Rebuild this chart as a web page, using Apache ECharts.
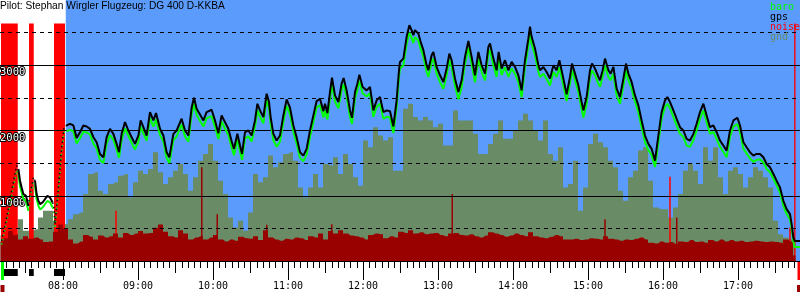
<!DOCTYPE html>
<html><head><meta charset="utf-8">
<script src="https://cdn.jsdelivr.net/npm/echarts@6/dist/echarts.min.js"></script>
<style>html,body{margin:0;padding:0;background:#fff}#c{width:800px;height:300px}</style>
</head><body><div id="c"></div>
<script>
// ---------- DATA ----------
const titleText = 'Pilot: Stephan Wirgler Flugzeug: DG 400 D-KKBA';
const legendNames = ['baro', 'gps', 'noise', 'gnd'];
const hourLabels = ['08:00','09:00','10:00','11:00','12:00','13:00','14:00','15:00','16:00','17:00'];

// axis extent in minutes of the day
const xMin = 429.6, xMax = 1069.6;
const flightStart = 482.2;           // coloured background from here
const takeoffMarker = 431.6, landingMarker = 1068.8;

// time (min of day) of each fix, gps altitude, baro altitude (m)
const flightT = [430.9,434.9,438.9,442.9,444.3,445.6,446.9,448.3,450.4,452.3,453.6,456.3,457.6,458.9,460.3,461.6,463.7,465.6,467.5,469.6,471.7,472.8,473.6,476.3,478.9,480.8,
481.6,482.9,485.6,488.3,490.9,493.6,496.3,498.9,501.6,504.3,506.9,509.6,512.3,514.9,517.6,520.3,522.9,524.8,526.9,529.6,532.3,534.9,537.6,540.3,542.1,544.3,546.9,549.6,552.3,554.4,557.6,560.3,562.9,565.1,568.3,570.9,574.9,577.6,580.3,582.9,584.8,586.9,589.6,
592.3,594.9,598.9,601.6,604.3,606.9,609.6,612.3,614.9,616.8,619.5,621.6,623.2,625.6,628.3,630.9,633.6,635.5,637.6,640.3,642.9,644.8,646.1,648.3,650.9,653.6,656.3,658.9,661.6,664.3,666.9,669.6,672.3,674.9,677.6,680.3,682.9,685.6,688.3,689.6,691.5,693.6,695.2,697.6,700.3,702.9,704.5,706.9,709.6,711.2,713.6,715.5,717.1,719.7,722.9,725.6,728.3,730.9,733.6,736.3,738.9,741.6,744.3,746.9,748.8,
749.6,752.3,754.9,757.1,758.9,760.3,761.6,764.3,766.1,768.3,770.9,772.3,774.9,776.3,778.9,781.6,784.3,786.9,789.1,790.9,793.6,796.3,798.9,801.6,804.3,806.9,809.6,812.3,814.9,817.6,820.3,821.6,824.3,826.9,828.5,830.9,833.6,836.3,838.9,841.6,844.3,846.9,849.6,852.3,853.6,854.9,857.6,860.3,861.6,864.3,866.9,869.6,872.3,874.9,877.1,880.3,882.9,885.6,887.2,889.6,892.3,894.9,896.3,898.9,901.6,903.2,905.6,908.3,
909.6,911.7,913.6,916.3,918.1,920.3,922.9,925.6,928.3,930.4,932.3,934.9,937.6,940.3,942.9,945.6,948.3,950.9,953.6,956.3,958.9,961.6,963.5,965.6,968.3,970.9,973.6,976.3,978.9,981.6,984.3,986.9,989.6,992.3,994.9,997.6,1000.3,1002.9,1005.6,1008.3,1010.9,1013.6,1016.3,1019.5,1021.6,1024.3,1026.9,1029.6,1032.3,1034.9,1037.6,1040.3,1042.9,1045.6,1048.3,1050.9,1053.6,1056.3,1058.9,1061.6,1062.9,1064.3,1065.3,1069.6];

const gpsAlt = [308,667,1077,1462,1410,1231,1128,1026,1000,846,1026,1282,1231,1026,923,872,897,949,1000,974,897,820,564,1128,1744,2051,
2051,2077,2103,2077,1887,1974,2077,2061,2026,1897,1820,1641,1590,1897,2026,1949,1795,1667,1949,2128,2000,1897,1795,1923,2154,2051,1923,2282,2154,2267,2026,1923,1667,1590,1949,2000,2180,2000,1923,2349,2503,2333,2246,
2154,2282,2318,2154,1959,2231,2128,2026,1836,1718,1949,1769,1641,1974,2000,1923,2154,2410,2308,2205,2564,2436,2205,1949,1846,1923,2231,2477,2349,2077,1897,1667,1615,1718,2000,2231,2451,2487,2297,2410,2267,2590,2810,2538,2436,2718,2805,2615,2308,2195,2590,2718,2856,2667,2615,2667,2308,2462,2513,2282,2308,2297,2062,2462,2923,
3051,3102,3436,3615,3538,3462,3538,3487,3359,3231,3000,2923,3154,3205,2974,2846,2744,2949,3179,3077,2795,2590,2769,3128,3374,3128,2846,3205,3000,2872,3282,3333,3102,2923,3205,2949,3077,2923,3051,2974,2846,2615,3077,3410,3590,3436,3256,3000,2923,2974,2897,2795,3000,2923,3077,2795,2554,2821,3026,2872,2692,2436,2308,2513,2923,3026,2949,2821,
2769,2923,3102,2923,2872,2974,2641,2513,2795,3026,2872,2744,2538,2385,2154,1923,1795,1718,1538,1923,2282,2462,2513,2436,2308,2180,2051,2000,1872,1846,1949,2103,2282,2410,2231,2051,2077,1974,1846,1769,1692,2000,2154,2195,2077,1821,1744,1667,1615,1641,1641,1590,1487,1436,1333,1231,1128,923,795,718,564,359,308,308];

const baroAlt = [250,600,1000,1390,1330,1150,1050,950,920,770,960,1210,1150,950,850,790,820,870,920,900,820,750,500,1060,1670,1970,
1950,1990,2010,1990,1800,1880,1980,1970,1940,1800,1730,1550,1500,1800,1930,1860,1710,1580,1850,2030,1920,1810,1710,1830,2060,1960,1840,2190,2060,2170,1930,1830,1580,1500,1850,1910,2090,1910,1830,2250,2410,2240,2150,
2060,2190,2220,2060,1870,2140,2030,1930,1740,1620,1860,1680,1550,1880,1910,1830,2060,2310,2210,2110,2470,2340,2110,1850,1750,1830,2130,2380,2250,1980,1800,1580,1530,1630,1900,2130,2350,2390,2200,2310,2170,2490,2710,2440,2340,2620,2710,2520,2210,2100,2490,2620,2760,2570,2520,2570,2210,2360,2410,2180,2210,2200,1960,2360,2820,
2950,3000,3330,3500,3420,3340,3430,3380,3250,3130,2900,2820,3050,3100,2870,2740,2640,2850,3080,2970,2690,2480,2660,3020,3270,3020,2740,3100,2900,2770,3180,3230,3000,2820,3100,2850,2970,2820,2950,2870,2740,2510,2970,3300,3480,3330,3150,2900,2820,2870,2790,2690,2900,2820,2970,2690,2450,2720,2920,2770,2590,2330,2200,2410,2820,2920,2850,2720,
2670,2820,3000,2820,2770,2870,2540,2410,2690,2920,2770,2640,2440,2280,2050,1820,1700,1620,1440,1820,2180,2360,2410,2340,2210,2080,1950,1900,1770,1750,1850,2000,2180,2310,2130,1950,1980,1870,1750,1670,1590,1900,2060,2100,1980,1720,1650,1570,1520,1550,1560,1510,1410,1360,1260,1160,1050,850,720,640,500,300,215,215];

// ground elevation and noise level, one sample every 4 minutes from 07:10
const sampleStart = 430, sampleStep = 4;
const gnd = [400,410,420,430,641,462,462,487,667,769,769,615,590,564,641,718,744,1026,1333,1359,1077,1026,1180,1205,1308,1333,974,1205,1385,1333,1410,1667,1359,1180,1282,1385,1487,1333,1077,1282,
1538,1641,1795,1538,1231,1026,667,513,615,462,744,1333,1205,1282,1615,1436,1513,1641,1667,1538,1128,974,1128,1333,1128,1487,1462,1590,1333,1641,1487,1282,1154,1846,1744,2051,1923,1846,1897,1385,
1385,2333,2410,2205,2154,2205,2154,2051,2103,1769,1769,2308,2154,2154,2154,1949,1641,1641,1795,1949,2154,1872,1872,2000,2154,2256,2154,2000,1846,2154,1641,1538,1744,1128,1180,1538,769,1128,1795,1949,
1821,1744,1538,1436,1077,923,1282,1385,1692,1744,1231,820,795,795,667,820,1026,1385,1487,1385,1180,1744,1538,1744,1282,1026,1385,1436,1333,1128,1282,1436,1385,1282,1128,615,410,359,333,282];
const noise = [300,350,460,400,330,380,340,360,330,290,300,450,560,500,330,270,300,400,370,330,390,360,380,420,360,430,400,420,460,420,430,510,560,450,380,360,470,420,330,360,
380,330,360,400,330,300,330,310,370,350,340,380,320,470,360,330,310,340,330,360,350,320,380,360,420,330,460,420,470,420,390,380,360,330,400,420,410,350,380,360,
450,430,470,420,440,410,420,430,400,380,420,430,400,390,410,380,360,390,440,420,400,370,390,420,400,380,440,380,360,350,370,400,380,330,330,340,320,330,350,340,
330,380,340,330,310,330,320,340,360,330,280,270,300,280,290,260,300,290,320,290,300,280,320,300,330,300,320,300,310,290,300,310,300,290,300,290,280,330,300,90];

// single noise peaks [time, level]
const noiseSpikesBright = [[522.4,769],[965.6,1292],[1061.6,513]];
const noiseSpikesDark = [[591.0,1436],[603.4,718],[643.0,554],[695.0,564],[791.4,1026],[913.6,641],[971.0,667]];
// engine running (noise saturated) intervals [start, end]
const engineOn = [[430.4,443.8],[452.8,456.6],[472.8,481.6]];
const noiseSaturated = [[430.4,443.8],[452.8,456.6],[472.8,481.6],[1064.9,1066.0]];
const noiseMax = 3640;

// ---------- CHART ----------
const C = {blue:'#5b9bfb', gnd:'#698c66', noise:'#990000', red:'#ff0000', baro:'#00ff00', gps:'#000000'};
const legendColors = [C.baro, C.gps, C.red, C.gnd];
const toMin = s => { const [h,m] = s.split(':').map(Number); return h*60+m; };
const hourVals = hourLabels.map(toMin);
const halfVals = [], fiveVals = [];
for (let t = 435; t <= 1065; t += 5) { fiveVals.push(t); if (t % 30 === 0) halfVals.push(t); }
const fmt = v => { const h = Math.floor(v/60), m = Math.round(v%60); return String(h).padStart(2,'0')+':'+String(m).padStart(2,'0'); };

// split tracks: fixes while the engine runs are drawn dotted
const inEngine = t => engineOn.some(([a,b]) => t >= a && t <= b);
const solidPart = arr => flightT.map((t,i) => [t, inEngine(t) ? '-' : arr[i]]);
const dottedPart = arr => flightT.map((t,i) => {
  const near = inEngine(t) || (i>0 && inEngine(flightT[i-1])) || (i<flightT.length-1 && inEngine(flightT[i+1]));
  return [t, near ? arr[i] : '-'];
});

const chart = echarts.init(document.getElementById('c'), null, {renderer:'canvas'});
const baseX = {type:'value', min:xMin, max:xMax, position:'bottom', splitLine:{show:false}, axisLabel:{show:false}, axisLine:{show:false}};
const intervalRect = (color, top) => (p, api) => {
  const a = api.coord([api.value(0), top]);
  const b = api.coord([api.value(1), 0]);
  return {type:'rect', shape:{x:a[0], y:a[1], width:b[0]-a[0], height:b[1]-a[1]}, style:{fill:color}};
};
const spikeRect = color => (p, api) => {
  const a = api.coord([api.value(0), api.value(1)]);
  const b = api.coord([api.value(0), 0]);
  return {type:'rect', shape:{x:a[0]-0.75, y:a[1], width:1.5, height:b[1]-a[1]}, style:{fill:color}};
};
const track = (name, arr, color, z) => [
  {type:'line', name, z, symbol:'none', silent:true, connectNulls:false, data:solidPart(arr), lineStyle:{color, width:2}},
  {type:'line', name:name+'Dots', z, symbol:'none', silent:true, connectNulls:false, data:dottedPart(arr), lineStyle:{color, width:1.5, type:[1.5,3]}}
];

chart.setOption({
  animation:false,
  grid:{left:0, right:0, top:0, bottom:39, outerBoundsMode:'none', containLabel:false},
  xAxis:[
    Object.assign({}, baseX, {z:4,
      axisLine:{show:true, onZero:false, lineStyle:{color:'#000', width:1}},
      axisTick:{show:true, length:19, customValues:hourVals, lineStyle:{color:'#000'}},
      axisLabel:{show:true, customValues:hourVals, formatter:fmt, margin:20, color:'#000', fontFamily:'DejaVu Sans Mono', fontSize:10}}),
    Object.assign({}, baseX, {axisTick:{show:true, length:12, customValues:halfVals, lineStyle:{color:'#000'}}}),
    Object.assign({}, baseX, {axisTick:{show:true, length:7, customValues:fiveVals, lineStyle:{color:'#000'}}})
  ],
  yAxis:[
    {type:'value', min:0, max:4000, interval:1000, z:4, axisLine:{show:false}, axisTick:{show:false},
     axisLabel:{inside:true, margin:0, verticalAlign:'top', padding:[2,0,0,0], color:'#fff', textBorderColor:'#000', textBorderWidth:2,
       fontFamily:'DejaVu Sans Mono', fontSize:10.5, formatter:v => (v>0 && v<4000) ? String(v) : ''},
     splitLine:{show:true, showMinLine:false, showMaxLine:false, lineStyle:{color:'#000', width:1}}},
    {type:'value', min:0, max:4000, interval:500, z:4, axisLine:{show:false}, axisTick:{show:false}, axisLabel:{show:false},
     splitLine:{show:true, showMinLine:false, showMaxLine:false, lineStyle:{color:'#000', width:1, type:[4,4]}}}
  ],
  graphic:[
    {type:'text', left:0, top:1, z:100, style:{text:titleText, fill:'#000', font:'10.2px "Liberation Sans", Arial'}},
    ...legendNames.map((n,i) => ({type:'text', left:770, top:2+i*10, z:100, style:{text:n, fill:legendColors[i], font:'10px "DejaVu Sans Mono"'}}))
  ],
  series:[
    {type:'custom', name:'bg', z:0, data:[[flightStart, xMax]], renderItem:intervalRect(C.blue, 4000), silent:true},
    {type:'line', name:'gnd', z:1, step:'middle', symbol:'none', silent:true,
     data:gnd.map((v,i)=>[sampleStart+i*sampleStep, v]), lineStyle:{width:0, opacity:0}, areaStyle:{color:C.gnd, opacity:1}},
    {type:'custom', name:'noiseSat', z:2, data:noiseSaturated, renderItem:intervalRect(C.red, noiseMax), silent:true},
    {type:'custom', name:'spikesBright', z:2.5, data:noiseSpikesBright, renderItem:spikeRect(C.red), silent:true},
    {type:'line', name:'noise', z:3, step:'middle', symbol:'none', silent:true,
     data:noise.map((v,i)=>[sampleStart+i*sampleStep, v]), lineStyle:{width:0, opacity:0}, areaStyle:{color:C.noise, opacity:1}},
    {type:'custom', name:'spikesDark', z:3.5, data:noiseSpikesDark, renderItem:spikeRect(C.noise), silent:true},
    {type:'custom', name:'engine', z:4, clip:false, data:engineOn, silent:true, renderItem:(p, api) => {
      const a = api.coord([api.value(0), 0]), b = api.coord([api.value(1), 0]);
      return {type:'rect', shape:{x:a[0], y:a[1]+8, width:b[0]-a[0], height:7}, style:{fill:'#000'}};
    }},
    {type:'custom', name:'markers', z:4, clip:false, silent:true,
     data:[[takeoffMarker, 0],[landingMarker, 1]], renderItem:(p, api) => {
      const a = api.coord([api.value(0), 0]);
      return {type:'group', children:[
        {type:'rect', shape:{x:a[0]-1.5, y:a[1], width:3, height:19}, style:{fill: api.value(1) ? C.red : C.baro}},
        {type:'rect', shape:{x:a[0]-2, y:a[1]+24, width:4, height:7}, style:{fill:C.noise}}
      ]};
    }},
    ...track('baro', baroAlt, C.baro, 5),
    ...track('gps', gpsAlt, C.gps, 6)
  ]
});
</script></body></html>
